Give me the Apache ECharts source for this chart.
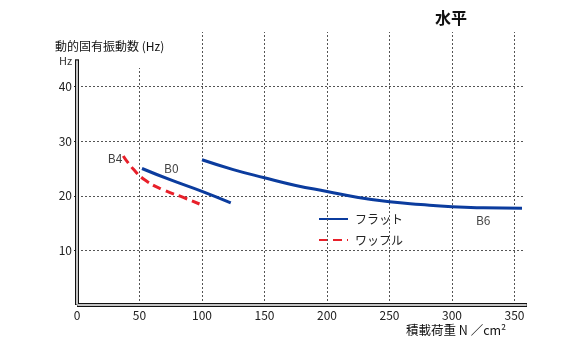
<!DOCTYPE html>
<html><head><meta charset="utf-8">
<script src="https://cdn.jsdelivr.net/npm/echarts@6/dist/echarts.min.js"></script>
<style>html,body{margin:0;padding:0;background:#fff}#c{width:583px;height:350px}</style>
</head><body><div id="c"></div>
<script>
var xTicks = [0, 50, 100, 150, 200, 250, 300, 350];
var yTicks = [10, 20, 30, 40];
var vGrid = [[50, 43.4], [100, 50], [150, 50], [200, 50], [250, 50], [300, 50], [350, 50]];
var hGridEnd = 358;
var flatB0 = [[52, 25.0], [75, 22.9], [100, 20.8], [123, 18.7]];
var flatB6 = [[100, 26.6], [125, 24.8], [150, 23.3], [175, 21.9], [200, 20.8], [225, 19.7], [250, 18.9], [275, 18.4], [300, 18.0], [325, 17.8], [356, 17.7]];
var waffleB4 = [[37, 27.3], [45, 24.9], [55, 22.8], [70, 21.0], [85, 19.7], [98, 18.5]];
var curveLabels = [['B4', 30.5, 26.9], ['B0', 75.5, 25.1], ['B6', 325, 15.4]];

var FONT = '"Noto Sans CJK JP", "Noto Sans", sans-serif';
var BLUE = '#0b3c9e', RED = '#e8202a', GRID = '#555';

var gridLines = [];
vGrid.forEach(function (v) {
  gridLines.push([{ coord: [v[0], 0] }, { coord: [v[0], v[1]] }]);
});
yTicks.forEach(function (y) {
  gridLines.push([{ coord: [0, y] }, { coord: [hGridEnd, y] }]);
});

var chart = echarts.init(document.getElementById('c'));
chart.setOption({
  animation: false,
  textStyle: { fontFamily: FONT },
  grid: { left: 77, right: 56, top: 32, bottom: 45 },
  xAxis: {
    type: 'value', min: 0, max: 360, interval: 50,
    axisLine: { show: false },
    axisTick: { show: false },
    splitLine: { show: false },
    axisLabel: { customValues: xTicks, color: '#222', fontSize: 12, margin: 4, fontFamily: FONT }
  },
  yAxis: {
    type: 'value', min: 0, max: 50, interval: 10,
    axisLine: { show: false },
    axisTick: { show: true, customValues: yTicks, length: 3, lineStyle: { color: '#222' } },
    splitLine: { show: false },
    axisLabel: { customValues: yTicks, color: '#222', fontSize: 12, margin: 5, fontFamily: FONT }
  },
  legend: {
    orient: 'vertical', left: 313, top: 208, itemGap: 9,
    itemWidth: 29, itemHeight: 12,
    itemStyle: { opacity: 0 },
    data: ['フラット', 'ワッフル'],
    textStyle: { fontSize: 12, color: '#222', fontFamily: FONT, padding: [0, 0, 0, 2] }
  },
  series: [
    {
      type: 'line', name: '_grid', data: [], silent: true,
      markLine: {
        symbol: 'none', silent: true, label: { show: false },
        lineStyle: { color: GRID, type: [2, 2], width: 1 },
        data: gridLines
      }
    },
    {
      type: 'line', name: '_axes', data: [], silent: true, z: 5,
      markLine: {
        symbol: 'none', silent: true, label: { show: false },
        lineStyle: { color: '#111', type: 'solid', width: 4 },
        data: [[{ coord: [0, 0] }, { coord: [0, 45] }], [{ coord: [0, 0] }, { coord: [360, 0] }]]
      }
    },
    {
      type: 'line', name: '_axes2', data: [], silent: true, z: 6,
      markLine: {
        symbol: 'none', silent: true, label: { show: false },
        lineStyle: { color: '#fff', type: 'solid', width: 1.5 },
        data: [[{ coord: [0, 0.1] }, { coord: [0, 44.8] }], [{ coord: [0.3, 0] }, { coord: [359.7, 0] }]]
      }
    },
    {
      type: 'line', name: 'フラット', data: flatB0, smooth: true, symbol: 'none', z: 10,
      lineStyle: { color: BLUE, width: 3 }, itemStyle: { color: BLUE }
    },
    {
      type: 'line', name: 'フラット', data: flatB6, smooth: true, symbol: 'none', z: 10,
      lineStyle: { color: BLUE, width: 3 }, itemStyle: { color: BLUE }
    },
    {
      type: 'line', name: 'ワッフル', data: waffleB4, smooth: true, symbol: 'none', z: 10,
      lineStyle: { color: RED, width: 3, type: [9, 5] }, itemStyle: { color: RED }
    },
    {
      type: 'scatter', name: '_labels', symbolSize: 0, silent: true,
      data: curveLabels.map(function (d) { return { value: [d[1], d[2]], name: d[0] }; }),
      label: { show: true, position: 'inside', formatter: '{b}', color: '#111', fontSize: 12, fontFamily: FONT }
    }
  ],
  graphic: [
    { type: 'text', left: 435, top: 10, style: { text: '水平', fontSize: 16, fontWeight: 'bold', fill: '#111', fontFamily: FONT } },
    { type: 'text', left: 55, top: 40, style: { text: '動的固有振動数 (Hz)', fontSize: 12, fill: '#111', fontFamily: FONT } },
    { type: 'text', left: 59, top: 55, style: { text: 'Hz', fontSize: 11, fill: '#333', fontFamily: FONT } },
    { type: 'text', left: 406, top: 324, style: { text: '積載荷重 N ／cm²', fontSize: 12.5, fill: '#111', fontFamily: FONT } }
  ]
});
</script></body></html>
